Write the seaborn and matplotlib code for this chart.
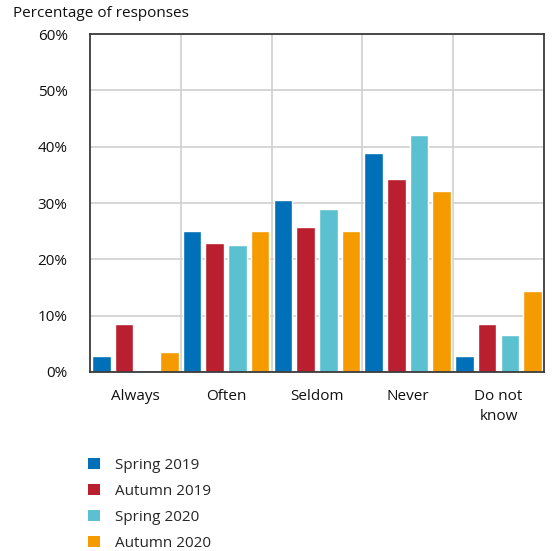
import pandas as pd
import numpy as np
import matplotlib.pyplot as plt
import seaborn as sns
from matplotlib.ticker import PercentFormatter, MultipleLocator
from matplotlib.patches import Patch

categories = ["Always", "Often", "Seldom", "Never", "Do not\nknow"]
seasons = ["Spring 2019", "Autumn 2019", "Spring 2020", "Autumn 2020"]
spring_2019 = [2.8, 25.0, 30.5, 38.9, 2.8]
autumn_2019 = [8.6, 22.9, 25.7, 34.3, 8.6]
spring_2020 = [0.0, 22.6, 29.0, 42.0, 6.5]
autumn_2020 = [3.6, 25.0, 25.0, 32.1, 14.3]
colors = ["#0070B8", "#B91F2E", "#5BC1D0", "#F59B00"]

sns.set_theme(style="white")
plt.rcParams['font.family'] = ['Open Sans', 'DejaVu Sans']

rows = []
for season, vals in zip(seasons, [spring_2019, autumn_2019, spring_2020, autumn_2020]):
    for cat, v in zip(categories, vals):
        rows.append({"Answer": cat, "Season": season, "Pct": v})
df = pd.DataFrame(rows)

fig = plt.figure(figsize=(5.55, 5.51), dpi=100)
ax = fig.add_axes([0.162, 0.325, 0.818, 0.613])

sns.barplot(data=df, x="Answer", y="Pct", hue="Season", order=categories,
            hue_order=seasons, palette=colors, saturation=1, width=1.0, gap=0.18,
            legend=False, ax=ax)

ax.set_ylim(0, 60)
ax.set_xlim(-0.5, len(categories) - 0.5)
ax.yaxis.set_major_locator(MultipleLocator(10))
ax.yaxis.set_major_formatter(PercentFormatter(decimals=0))
ax.set_xticks(np.arange(len(categories) - 1) + 0.5, minor=True)
ax.grid(axis="y", which="major", color="#d0d0d0", linewidth=1.2)
ax.grid(axis="x", which="minor", color="#d0d0d0", linewidth=1.2)
ax.grid(axis="x", which="major", visible=False)
ax.set_axisbelow(True)
for s in ax.spines.values():
    s.set_color("#3a3a3a")
    s.set_linewidth(1.3)
ax.tick_params(which="both", length=0, labelsize=11, colors="#111111")
ax.tick_params(axis="y", pad=16)
ax.tick_params(axis="x", pad=12)
for lbl in ax.get_xticklabels():
    lbl.set_linespacing(1.45)
ax.set_xlabel("")
ax.set_ylabel("")

fig.text(0.023, 0.976, "Percentage of responses", fontsize=11, va="center", ha="left", color="#111111")

handles = [Patch(facecolor=c, edgecolor="none", label=s) for s, c in zip(seasons, colors)]
fig.legend(handles=handles, loc="upper left", bbox_to_anchor=(0.145, 0.183),
           frameon=False, fontsize=11, handlelength=0.75, handleheight=0.75,
           handletextpad=1.0, labelspacing=0.72, borderpad=0)

fig.savefig("out.png", dpi=100)
